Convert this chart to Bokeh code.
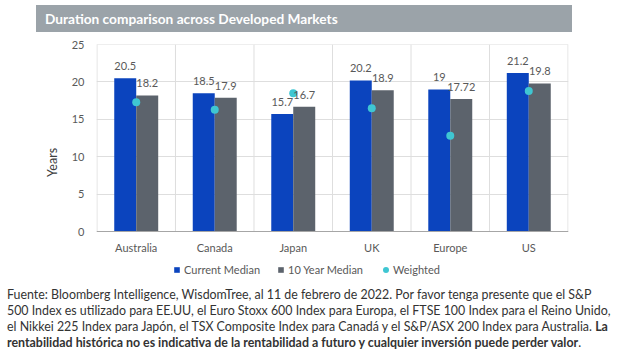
from bokeh.plotting import figure
from bokeh.layouts import column
from bokeh.models import (Range1d, FixedTicker, ColumnDataSource, Legend, LegendItem, Div)
from bokeh.embed import file_html
from bokeh.resources import INLINE
from bokeh.core.properties import value

# ---- data ----
categories = ["Australia", "Canada", "Japan", "UK", "Europe", "US"]
current_median = [20.5, 18.5, 15.7, 20.2, 19, 21.2]
ten_year_median = [18.2, 17.9, 16.7, 18.9, 17.72, 19.8]
weighted = [17.3, 16.3, 18.5, 16.5, 12.8, 18.8]
y_ticks = [0, 5, 10, 15, 20, 25]
series_names = ["Current Median", "10 Year Median", "Weighted"]
chart_title = "Duration comparison across Developed Markets"
y_label = "Years"
footnote_lines = [
    "Fuente: Bloomberg Intelligence, WisdomTree, al 11 de febrero de 2022. Por favor tenga presente que el S&amp;P",
    "500 Index es utilizado para EE.UU, el Euro Stoxx 600 Index para Europa, el FTSE 100 Index para el Reino Unido,",
    "el Nikkei 225 Index para Japón, el TSX Composite Index para Canadá y el S&amp;P/ASX 200 Index para Australia. <b>La</b>",
    "<b>rentabilidad histórica no es indicativa de la rentabilidad a futuro y cualquier inversión puede perder valor</b>.",
]

# ---- styles ----
BLUE = "#0B44BE"
GRAY = "#5C636C"
CYAN = "#3FC6D2"
TXT = "#595959"
GRID = "#DEDEDE"
FONT = "Lato"
W = 614
bw = 0.28

# ---- title bar ----
title_div = Div(
    text=(f'<div style="background:#9BA3A9;color:white;font-family:{FONT};font-weight:bold;'
          f'font-size:13.7px;height:27px;line-height:27px;padding-left:9px;width:536px;'
          f'white-space:nowrap">{chart_title}</div>'),
    width=545, height=27, margin=(5, 0, 0, 36))

# ---- main chart ----
n = len(categories)
centers = [i + 0.5 for i in range(n)]
bounds = list(range(n + 1))
src = ColumnDataSource(dict(
    x_cur=[c - bw / 2 for c in centers],
    x_ten=[c + bw / 2 for c in centers],
    x=centers,
    cur=current_median,
    ten=ten_year_median,
    w=weighted,
    cur_lbl=[f"{v:g}" for v in current_median],
    ten_lbl=[f"{v:g}" for v in ten_year_median],
))

FH = 250          # figure height
TOP, BOT = 12, 2  # borders
frame_h = FH - TOP - BOT
px_per_unit = 187 / (y_ticks[-1] - y_ticks[0])
y_lo = y_ticks[-1] - frame_h / px_per_unit

p = figure(width=W, height=FH, output_backend="svg", toolbar_location=None,
           x_range=Range1d(-0.006, n + 0.006), y_range=Range1d(y_lo, y_ticks[-1] + 0.01),
           min_border_left=96, min_border_right=W - 568, min_border_top=TOP,
           min_border_bottom=BOT)
p.outline_line_color = None

# grid: horizontal via the grid, vertical category separators as segments
p.xgrid.visible = False
p.ygrid.ticker = FixedTicker(ticks=y_ticks[1:])
p.ygrid.grid_line_color = GRID
p.segment(x0=bounds, x1=bounds, y0=[y_ticks[0]] * len(bounds), y1=[y_ticks[-1]] * len(bounds),
          line_color=GRID, line_width=1)

p.xaxis.fixed_location = 0
p.xaxis.ticker = FixedTicker(ticks=centers)
p.xaxis.major_label_overrides = {c: name for c, name in zip(centers, categories)}
p.xaxis.axis_line_color = "#A6A6A6"
p.xaxis.major_label_standoff = 9
p.yaxis.ticker = FixedTicker(ticks=y_ticks)
p.yaxis.axis_line_color = None
p.yaxis.major_label_standoff = 12
p.yaxis.axis_label = y_label
p.yaxis.axis_label_standoff = 9
p.yaxis.axis_label_text_font_style = "normal"
p.yaxis.axis_label_text_font_size = "12.5px"
p.yaxis.axis_label_text_color = "#404040"
p.yaxis.axis_label_text_font = FONT
for ax in (p.xaxis, p.yaxis):
    ax.major_tick_line_color = None
    ax.minor_tick_line_color = None
    ax.major_tick_out = 0
    ax.major_tick_in = 0
    ax.minor_tick_out = 0
    ax.minor_tick_in = 0
    ax.major_label_text_font = FONT
    ax.major_label_text_font_size = "11px"
    ax.major_label_text_color = TXT

r_cur = p.vbar(x="x_cur", top="cur", width=bw, source=src, fill_color=BLUE, line_color=None)
r_ten = p.vbar(x="x_ten", top="ten", width=bw, source=src, fill_color=GRAY, line_color=None)
r_w = p.scatter(x="x", y="w", size=8, source=src, fill_color=CYAN, line_color=None)

for xcol, ycol, tcol in (("x_cur", "cur", "cur_lbl"), ("x_ten", "ten", "ten_lbl")):
    p.text(x=xcol, y=ycol, text=tcol, source=src, text_align="center",
           text_baseline="middle", y_offset=-12, text_font=value(FONT),
           text_font_size="11px", text_color=TXT)

common = dict(orientation="horizontal", padding=0, margin=0, border_line_color=None,
              background_fill_alpha=0, label_text_font=FONT, label_text_font_size="11px",
              label_text_color=TXT, label_height=13)
legend_bars = Legend(items=[LegendItem(label=nm, renderers=[r]) for nm, r in
                            zip(series_names[:2], (r_cur, r_ten))],
                     location=(77, 4.5), spacing=17, glyph_width=7, glyph_height=7,
                     label_standoff=4, **common)
legend_dot = Legend(items=[LegendItem(label=series_names[2], renderers=[r_w])],
                    location=(282, 3.5), glyph_width=15, glyph_height=15,
                    label_standoff=0, **common)
p.add_layout(legend_bars)
p.add_layout(legend_dot)

# ---- footnote ----
foot_div = Div(
    text=(f'<div style="font-family:{FONT};font-size:12.4px;line-height:16.1px;color:#333333;'
          f'white-space:nowrap">' + "<br>".join(footnote_lines) + "</div>"),
    width=W - 7, height=72, margin=(5, 0, 0, 7))

layout = column(title_div, p, foot_div, spacing=0)
open("out.html", "w").write(file_html(layout, INLINE))
